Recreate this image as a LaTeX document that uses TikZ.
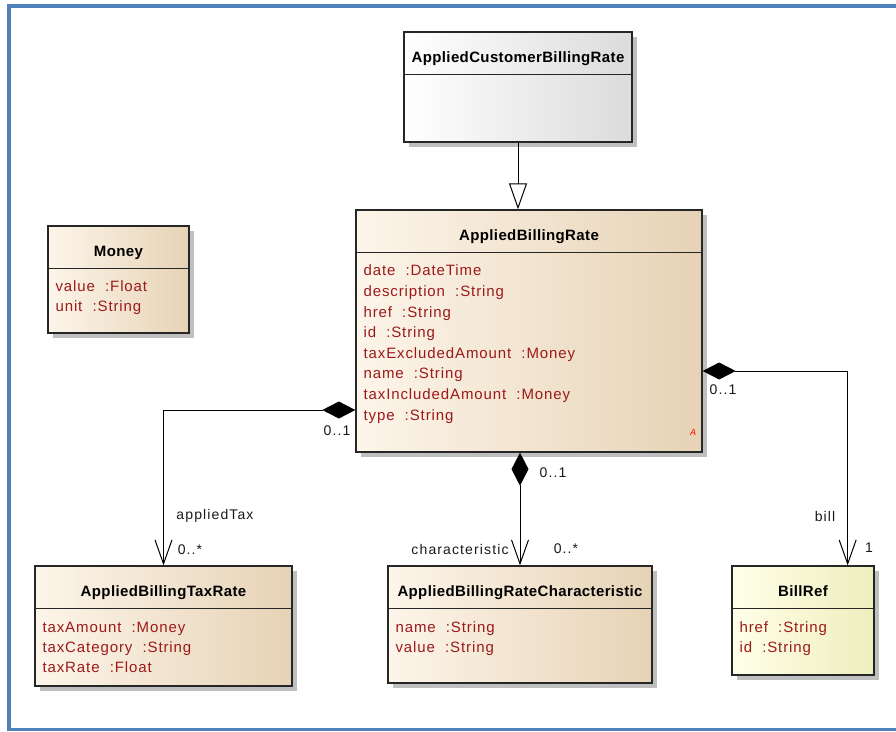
\documentclass[tikz,border=0pt]{standalone}
\usepackage{fontspec}
\setmainfont{Liberation Sans}
\newfontfamily\attrfont[LetterSpace=6]{Liberation Sans}
\newfontfamily\titlefont[LetterSpace=2.5]{Liberation Sans}
\newfontfamily\labelfont[LetterSpace=8]{Liberation Sans}
\usepackage{tikz}
\usetikzlibrary{arrows.meta,shadows,calc,positioning}

\definecolor{framebl}{HTML}{4F81BD}
\definecolor{attrred}{HTML}{9C1A1A}
\definecolor{tanL}{HTML}{FDF5EA}
\definecolor{tanM}{HTML}{F8EAD7}
\definecolor{tanR}{HTML}{E6D3B6}
\definecolor{yelL}{HTML}{FFFFE8}
\definecolor{yelR}{HTML}{EEEEBE}

\tikzset{
  classbox/.style={draw=black!85, line width=1.3pt, rectangle, inner sep=0pt,
    drop shadow={shadow xshift=5pt, shadow yshift=-5pt, fill=black!25, opacity=1}},
  tanbox/.style={classbox, left color=tanL, middle color=tanM, right color=tanR},
  yelbox/.style={classbox, left color=yelL, middle color=yelL!70!yelR, right color=yelR},
  greybox/.style={classbox, left color=white, middle color=white, right color=black!14},
  divline/.style={draw=black!85, line width=1pt},
  classname/.style={font=\titlefont\bfseries\fontsize{15}{18}\selectfont, anchor=base, inner sep=0pt},
  attr/.style={font=\attrfont\fontsize{15}{18}\selectfont, text=attrred, anchor=base west, inner sep=0pt},
  mult/.style={font=\labelfont\fontsize{14}{17}\selectfont, text=black!90, inner sep=0pt},
  comp/.style={line width=1pt, {Diamond[length=33pt,width=17pt]}-{Straight Barb[length=24pt,width=17pt]}},
  gen/.style={line width=1pt, -{Triangle[open,length=26pt,width=18pt,fill=white]}}
}

\begin{document}
\begin{tikzpicture}[x=1pt,y=-1pt]
  \useasboundingbox (0,0) rectangle (896,731);
  \draw[line width=3.5pt, framebl] (9,6) rectangle (910,729.5);

  \node[greybox, minimum width=228, minimum height=110] (acbr) at (518,87) {};
  \node[tanbox, minimum width=346, minimum height=242] (abr) at (529,331) {};
  \node[tanbox, minimum width=141, minimum height=107] (money) at (118.5,279.5) {};
  \node[tanbox, minimum width=257, minimum height=120] (abtr) at (163.5,626) {};
  \node[tanbox, minimum width=264, minimum height=117] (abrc) at (520,624.5) {};
  \node[yelbox, minimum width=142, minimum height=109] (billref) at (803,620.5) {};

  \foreach \c in {acbr,abr,money,abtr,abrc,billref}
    \draw[divline] ($(\c.north west)+(0,43)$) -- ($(\c.north east)+(0,43)$);

  \node[classname] (acbr-name) at ($(acbr.north)+(0,31)$) {AppliedCustomerBillingRate};
  \node[classname] (abr-name) at ($(abr.north)+(0,31.5)$) {AppliedBillingRate};
  \node[classname] (money-name) at ($(money.north)+(0,31.5)$) {Money};
  \node[classname] (abtr-name) at ($(abtr.north)+(0,31.5)$) {AppliedBillingTaxRate};
  \node[classname] (abrc-name) at ($(abrc.north)+(0,31.5)$) {AppliedBillingRateCharacteristic};
  \node[classname] (billref-name) at ($(billref.north)+(0,31.5)$) {BillRef};

  \foreach \t [count=\i] in {date~~:DateTime, description~~:String, href~~:String, id~~:String,
      taxExcludedAmount~~:Money, name~~:String, taxIncludedAmount~~:Money, type~~:String}
    \node[attr] (abr-a\i) at ($(abr.north west)+(8,66.5+20.6*\i-20.6)$) {\t};
  \foreach \t [count=\i] in {value~~:Float, unit~~:String}
    \node[attr] (money-a\i) at ($(money.north west)+(8,66+20.6*\i-20.6)$) {\t};
  \foreach \t [count=\i] in {taxAmount~~:Money, taxCategory~~:String, taxRate~~:Float}
    \node[attr] (abtr-a\i) at ($(abtr.north west)+(8,67+20.2*\i-20.2)$) {\t};
  \foreach \t [count=\i] in {name~~:String, value~~:String}
    \node[attr] (abrc-a\i) at ($(abrc.north west)+(8,67+20.2*\i-20.2)$) {\t};
  \foreach \t [count=\i] in {href~~:String, id~~:String}
    \node[attr] (billref-a\i) at ($(billref.north west)+(8,67+20.2*\i-20.2)$) {\t};
  \node[font=\itshape\fontsize{9}{10}\selectfont, text=red, inner sep=0pt] (abr-abs) at (693,432) {A};

  \draw[gen] (acbr.south) -- (acbr.south |- abr.north);
  \draw[comp] ([yshift=-79pt]abr.west) -| (abtr.north);
  \draw[comp] (abrc.north |- abr.south) -- (abrc.north);
  \draw[comp] ([yshift=-40pt]abr.east) -| ([xshift=-27pt]billref.north east);

  \node[mult] (tax-src) at (337,431) {0..1};
  \node[mult] (tax-role) at (215,516) {appliedTax};
  \node[mult] (tax-dst) at (190,550) {0..*};
  \node[mult] (char-src) at (553,473) {0..1};
  \node[mult] (char-role) at (460,549) {characteristic};
  \node[mult] (char-dst) at (566,549) {0..*};
  \node[mult] (bill-src) at (723,390) {0..1};
  \node[mult] (bill-role) at (825,516) {bill};
  \node[mult] (bill-dst) at (869,548) {1};
\end{tikzpicture}
\end{document}
